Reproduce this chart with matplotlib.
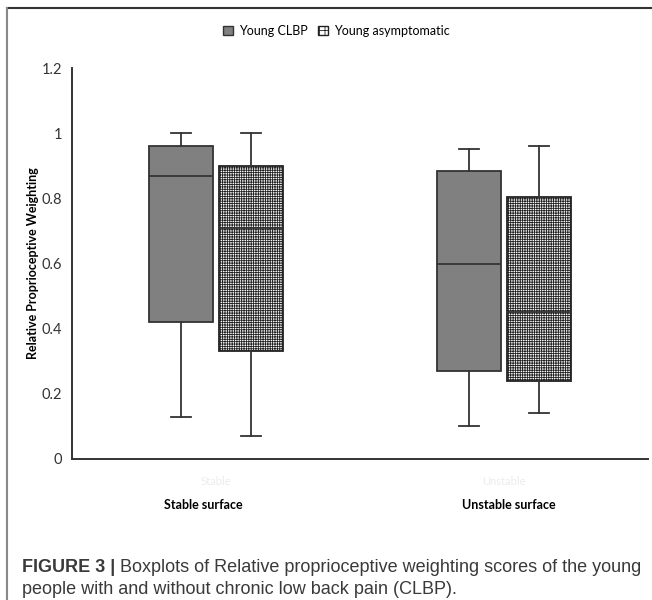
import matplotlib
matplotlib.use('Agg')
import matplotlib.pyplot as plt
import matplotlib.patches as mpatches
from matplotlib.lines import Line2D

plt.rcParams.update({'font.family': ['Lato', 'DejaVu Sans'], 'hatch.linewidth': 0.6})

surfaces = ['Stable', 'Unstable']
surface_titles = ['Stable surface', 'Unstable surface']
groups = ['Young CLBP', 'Young asymptomatic']

# five-number summaries: low whisker, Q1, median, Q3, high whisker
clbp_low = [0.13, 0.10]
clbp_q1 = [0.42, 0.27]
clbp_med = [0.87, 0.60]
clbp_q3 = [0.96, 0.885]
clbp_high = [1.00, 0.95]

asym_low = [0.07, 0.14]
asym_q1 = [0.33, 0.24]
asym_med = [0.71, 0.45]
asym_q3 = [0.90, 0.805]
asym_high = [1.00, 0.96]

yticks = [0, 0.2, 0.4, 0.6, 0.8, 1, 1.2]
ytick_labels = ['0', '0.2', '0.4', '0.6', '0.8', '1', '1.2']

fig = plt.figure(figsize=(6.52, 6.0), dpi=100)
ax = fig.add_axes([72/652, 141/600, 576/652, 391/600])

def stats(lo, q1, med, q3, hi):
    return [dict(whislo=lo[i], q1=q1[i], med=med[i], q3=q3[i], whishi=hi[i], fliers=[])
            for i in range(len(lo))]

centers = [0.5, 1.5]
off = 35/288
w = 64/288
line_kw = dict(color='#333333', linewidth=1.3)

b1 = ax.bxp(stats(clbp_low, clbp_q1, clbp_med, clbp_q3, clbp_high),
            positions=[c - off for c in centers], widths=w, patch_artist=True,
            showfliers=False, boxprops=dict(facecolor='#808080', edgecolor='#333333', linewidth=1.3),
            medianprops=line_kw, whiskerprops=line_kw, capprops=line_kw, capwidths=w*0.3)
b2 = ax.bxp(stats(asym_low, asym_q1, asym_med, asym_q3, asym_high),
            positions=[c + off for c in centers], widths=w, patch_artist=True,
            showfliers=False, boxprops=dict(facecolor='white', edgecolor='#222222', linewidth=1.3, hatch='+++++++'),
            medianprops=line_kw, whiskerprops=line_kw, capprops=line_kw, capwidths=w*0.3)

ax.set_xlim(0, 2)
ax.set_ylim(0, 1.2)
ax.set_xticks(centers)
ax.set_xticklabels(surfaces, color='#ececec', fontsize=8)
ax.set_yticks(yticks)
ax.set_yticklabels(ytick_labels, fontsize=10.5, color='#333333')
ax.tick_params(length=0)
ax.tick_params(axis='y', pad=7)
ax.tick_params(axis='x', pad=12)
for s in ['top', 'right']:
    ax.spines[s].set_visible(False)
for s in ['left', 'bottom']:
    ax.spines[s].set_color('#333333')
    ax.spines[s].set_linewidth(1.4)
ax.set_ylabel('Relative Proprioceptive Weighting', fontsize=9, fontweight='bold', labelpad=2)

for x, t in zip([203, 509], surface_titles):
    fig.text(x/652, 1 - 505/600, t, ha='center', va='center', fontsize=9, fontweight='bold')

handles = [mpatches.Patch(facecolor='#808080', edgecolor='#333333', label=groups[0]),
           mpatches.Patch(facecolor='white', edgecolor='#222222', hatch='+++', label=groups[1])]
fig.legend(handles=handles, loc='center', bbox_to_anchor=(336/652, 1 - 31/600), ncol=2,
           frameon=False, fontsize=9, handlelength=0.8, handleheight=0.8, handletextpad=0.5,
           columnspacing=0.8)

# frame lines of the figure panel
fig.add_artist(Line2D([7/652, 1], [1 - 8/600, 1 - 8/600], color='#333333', linewidth=1.5))
fig.add_artist(Line2D([7/652, 7/652], [0, 1 - 8/600], color='#888888', linewidth=1.5))

cap_kw = dict(fontsize=13.0, family=['Liberation Sans', 'DejaVu Sans'], color='#3a3a3a')
t1 = fig.text(22/652, 1 - 567/600, 'FIGURE 3 |', fontweight='bold', va='center', **cap_kw)
fig.add_artist(matplotlib.text.Annotation(
    ' Boxplots of Relative proprioceptive weighting scores of the young', xy=(1, 0.5),
    xycoords=t1, va='center', **cap_kw))
fig.text(22/652, 1 - 589/600, 'people with and without chronic low back pain (CLBP).', va='center', **cap_kw)

fig.savefig('out.png', dpi=100)
